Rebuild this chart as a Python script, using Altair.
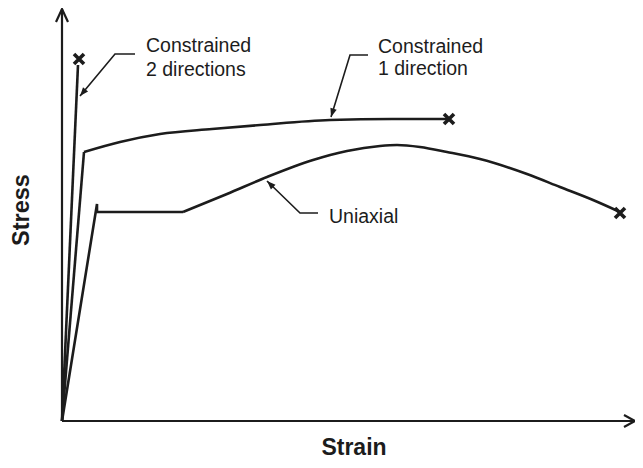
import altair as alt
import pandas as pd
import numpy as np

# ---- curves (strain, stress) in arbitrary units ----
c2_strain = [0, 16]
c2_stress = [0, 356]

c1_el_strain = [0, 22]
c1_el_stress = [0, 269]
c1_pl_strain = [22, 58, 98, 150, 198, 268, 330, 386]
c1_pl_stress = [269, 279, 287, 292, 296, 301, 302, 302]

ua_el_strain = [0, 35, 35, 121]
ua_el_stress = [0, 217, 209, 209]
ua_pl_strain = [121, 165, 205, 251, 285, 318, 335, 358, 385, 418, 465, 498, 531, 558]
ua_pl_stress = [209, 227, 244, 261, 270, 275, 276, 274, 269, 262, 247, 234, 221, 209]

# fracture points (x markers)
frac_strain = [17, 387, 558]
frac_stress = [362, 302, 208]

# ---- annotations ----
lbl_text = ["Constrained", "2 directions", "Constrained", "1 direction", "Uniaxial"]
lbl_x = [84, 84, 316, 316, 267]
lbl_y = [369, 345, 368, 346, 198]

leader_id = ["c2", "c2", "c2", "c1", "c1", "c1", "ua", "ua", "ua"]
leader_x = [73, 53, 18, 306, 288, 269, 256, 238, 205]
leader_y = [367, 367, 325, 366, 366, 304, 208, 208, 240]

XMAX, YMAX = 573, 412
INK = "#1c1c1c"
FONT = "Liberation Sans"

xs = alt.Scale(domain=[0, XMAX], nice=False, zero=False)
ys = alt.Scale(domain=[0, YMAX], nice=False, zero=False)


def seg_df(strain, stress, name):
    return pd.DataFrame({"strain": strain, "stress": stress, "seg": name,
                         "i": range(len(strain))})


straight = pd.concat([
    seg_df(c2_strain, c2_stress, "c2"),
    seg_df(c1_el_strain, c1_el_stress, "c1e"),
    seg_df(ua_el_strain, ua_el_stress, "uae"),
])
curved = pd.concat([
    seg_df(c1_pl_strain, c1_pl_stress, "c1p"),
    seg_df(ua_pl_strain, ua_pl_stress, "uap"),
])

X = alt.X("strain:Q", scale=xs, axis=None)
Y = alt.Y("stress:Q", scale=ys, axis=None)

lines_straight = alt.Chart(straight).mark_line(color=INK, strokeWidth=2.6).encode(
    x=X, y=Y, detail="seg:N", order="i:Q")
lines_curved = alt.Chart(curved).mark_line(color=INK, strokeWidth=2.6, interpolate="monotone").encode(
    x=X, y=Y, detail="seg:N", order="i:Q")

frac = alt.Chart(pd.DataFrame({"strain": frac_strain, "stress": frac_stress})).mark_point(
    shape="M-1,-1L1,1M1,-1L-1,1", filled=False, size=100, strokeWidth=3.6, color=INK, opacity=1
).encode(x=X, y=Y)

# axes with open arrowheads
axes_df = pd.DataFrame({
    "strain": [0, XMAX, 0, 0, XMAX - 11, XMAX, XMAX - 11, -6, 0, 6],
    "stress": [0, 0, 0, YMAX, 6, 0, -6, YMAX - 13, YMAX, YMAX - 13],
    "seg": ["ax", "ax", "ay", "ay", "hx", "hx", "hx", "hy", "hy", "hy"],
    "i": [0, 1, 0, 1, 0, 1, 2, 0, 1, 2],
})
axes = alt.Chart(axes_df).mark_line(color=INK, strokeWidth=2.2).encode(
    x=X, y=Y, detail="seg:N", order="i:Q")

# leaders
ldf = pd.DataFrame({"strain": leader_x, "stress": leader_y, "seg": leader_id,
                    "i": [0, 1, 2] * 3})
leaders = alt.Chart(ldf).mark_line(color=INK, strokeWidth=1.6).encode(
    x=X, y=Y, detail="seg:N", order="i:Q")

# arrowheads at leader tips
tips = []
for k in range(0, len(leader_x), 3):
    dx = leader_x[k + 2] - leader_x[k + 1]
    dy = leader_y[k + 2] - leader_y[k + 1]
    ang = float(np.degrees(np.arctan2(dx, dy))) % 360
    tips.append({"strain": leader_x[k + 2], "stress": leader_y[k + 2], "ang": ang})
heads = alt.Chart(pd.DataFrame(tips)).mark_point(
    shape="M0,0L-0.38,1L0.38,1Z", filled=True, size=300, color=INK, opacity=1
).encode(x=X, y=Y, angle=alt.Angle("ang:Q", scale=None))

labels = alt.Chart(pd.DataFrame({"strain": lbl_x, "stress": lbl_y, "t": lbl_text})).mark_text(
    align="left", baseline="alphabetic", font=FONT, fontSize=19.5, color=INK
).encode(x=X, y=Y, text="t:N")

xtitle = alt.Chart(pd.DataFrame({"strain": [292], "stress": [-27], "t": ["Strain"]})).mark_text(
    align="center", baseline="middle", font=FONT, fontSize=23, fontWeight="bold", color=INK
).encode(x=X, y=Y, text="t:N")
ytitle = alt.Chart(pd.DataFrame({"strain": [-40], "stress": [211], "t": ["Stress"]})).mark_text(
    align="center", baseline="middle", font=FONT, fontSize=23.5, fontWeight="bold", color=INK, angle=270
).encode(x=X, y=Y, text="t:N")

chart = alt.layer(axes, lines_straight, lines_curved, frac, leaders, heads, labels, xtitle, ytitle).properties(
    width=XMAX, height=YMAX,
    autosize=alt.AutoSizeParams(type="none"),
    padding={"left": 54, "top": 1, "right": 0, "bottom": 39},
    background="white",
).configure_view(stroke=None)

chart.save("out.html", embed_options={"renderer": "svg", "actions": False})
